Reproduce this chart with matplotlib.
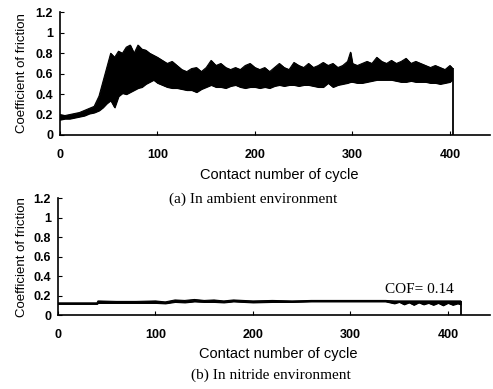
# -*- coding: utf-8 -*-
# Coefficient of friction vs contact cycles, ambient (a) and nitride (b) environment

import matplotlib
matplotlib.use("Agg")
import matplotlib.pyplot as plt

# (a) ambient: band of the noisy trace, upper and lower edge
cycles_a = [0, 5, 10, 15, 20, 25, 30, 35, 40, 44, 48, 52, 56, 60, 64, 68, 72, 76, 80, 84,
            88, 92, 96, 100, 105, 110, 115, 120, 125, 130, 135, 140, 145, 150, 155, 160,
            165, 170, 175, 180, 185, 190, 195, 200, 205, 210, 215, 220, 225, 230, 235, 240,
            245, 250, 255, 260, 265, 270, 275, 280, 285, 290, 295, 298, 300, 305, 310, 315,
            320, 325, 330, 335, 340, 345, 350, 355, 360, 365, 370, 375, 380, 385, 390, 395,
            400, 402]
upper_a = [0.20, 0.19, 0.20, 0.21, 0.22, 0.24, 0.26, 0.28, 0.38, 0.52, 0.66, 0.80, 0.76, 0.82,
           0.80, 0.86, 0.88, 0.80, 0.88, 0.84, 0.83, 0.80, 0.78, 0.76, 0.73, 0.70, 0.72, 0.68,
           0.64, 0.62, 0.65, 0.66, 0.62, 0.66, 0.73, 0.68, 0.70, 0.66, 0.64, 0.66, 0.64, 0.68,
           0.70, 0.66, 0.64, 0.66, 0.62, 0.66, 0.70, 0.66, 0.64, 0.71, 0.68, 0.66, 0.70, 0.66,
           0.68, 0.71, 0.68, 0.70, 0.66, 0.68, 0.72, 0.81, 0.70, 0.68, 0.70, 0.72, 0.70, 0.76,
           0.72, 0.70, 0.73, 0.70, 0.72, 0.75, 0.70, 0.72, 0.70, 0.68, 0.66, 0.68, 0.66, 0.64,
           0.68, 0.66]
lower_a = [0.15, 0.16, 0.16, 0.17, 0.18, 0.19, 0.21, 0.22, 0.24, 0.27, 0.31, 0.34, 0.27, 0.38,
           0.41, 0.40, 0.42, 0.44, 0.46, 0.47, 0.50, 0.52, 0.54, 0.51, 0.49, 0.47, 0.46, 0.46,
           0.45, 0.44, 0.44, 0.42, 0.45, 0.47, 0.49, 0.47, 0.47, 0.46, 0.48, 0.49, 0.47, 0.46,
           0.47, 0.47, 0.46, 0.47, 0.46, 0.48, 0.49, 0.48, 0.49, 0.49, 0.48, 0.49, 0.49, 0.48,
           0.47, 0.47, 0.51, 0.47, 0.49, 0.50, 0.51, 0.52, 0.52, 0.51, 0.51, 0.52, 0.53, 0.54,
           0.54, 0.54, 0.54, 0.53, 0.52, 0.52, 0.53, 0.52, 0.52, 0.52, 0.51, 0.51, 0.50, 0.51,
           0.52, 0.54]
end_a = 403

# (b) nitride: thin trace around 0.14
cycles_b = [0, 40, 41, 60, 80, 100, 110, 120, 130, 140, 150, 160, 170, 180, 190, 200, 220,
            240, 260, 280, 300, 320, 336, 345, 350, 355, 360, 365, 370, 375, 380, 385, 390,
            395, 400, 405, 410, 413]
upper_b = [0.125, 0.125, 0.145, 0.140, 0.140, 0.145, 0.135, 0.155, 0.150, 0.160, 0.150, 0.155,
           0.145, 0.155, 0.150, 0.145, 0.150, 0.145, 0.150, 0.150, 0.150, 0.150, 0.150, 0.145,
           0.145, 0.145, 0.145, 0.145, 0.145, 0.145, 0.145, 0.145, 0.145, 0.145, 0.145, 0.145,
           0.145, 0.145]
lower_b = [0.115, 0.115, 0.125, 0.125, 0.125, 0.125, 0.120, 0.135, 0.130, 0.140, 0.135, 0.135,
           0.130, 0.140, 0.135, 0.130, 0.135, 0.135, 0.140, 0.140, 0.140, 0.140, 0.140, 0.120,
           0.135, 0.110, 0.130, 0.105, 0.130, 0.110, 0.125, 0.105, 0.125, 0.100, 0.125, 0.105,
           0.120, 0.110]
end_b = 413
cof_text = "COF= 0.14"

y_ticks = [0, 0.2, 0.4, 0.6, 0.8, 1.0, 1.2]
y_labels = ["0", "0.2", "0.4", "0.6", "0.8", "1", "1.2"]
x_ticks = [0, 100, 200, 300, 400]

fig = plt.figure(figsize=(4.93, 3.89), dpi=100)
ax1 = fig.add_axes([0.1217, 0.653, 0.872, 0.315])
ax2 = fig.add_axes([0.1176, 0.190, 0.876, 0.301])

panels = [
    (ax1, cycles_a, upper_a, lower_a, end_a, 441),
    (ax2, cycles_b, upper_b, lower_b, end_b, 443),
]
for ax, cyc, up, lo, end, xmax in panels:
    ax.fill_between(cyc, lo, up, color="black", lw=0.8)
    ax.plot(cyc, up, color="black", lw=0.8)
    ax.plot(cyc, lo, color="black", lw=0.8)
    ax.vlines(end, 0, up[-1], color="black", lw=1.3)
    ax.set_xlim(0, xmax)
    ax.set_ylim(0, 1.2)
    ax.set_xticks(x_ticks)
    ax.set_yticks(y_ticks)
    ax.set_yticklabels(y_labels)
    for s in ["top", "right"]:
        ax.spines[s].set_visible(False)
    for s in ["left", "bottom"]:
        ax.spines[s].set_linewidth(1.2)
    ax.tick_params(axis="x", direction="in", length=3, pad=10)
    ax.tick_params(axis="y", direction="in", length=3, pad=5)
    for lab in ax.get_xticklabels() + ax.get_yticklabels():
        lab.set_fontfamily("Liberation Sans")
        lab.set_fontweight("bold")
        lab.set_fontsize(9)

ax2.text(335, 0.26, cof_text, family="Liberation Serif", fontsize=11, va="center")

sans = dict(family="Liberation Sans", fontsize=10.5, ha="center", va="center")
serif = dict(family="Liberation Serif", fontsize=11, ha="center", va="center")
fig.text(0.566, 0.550, "Contact number of cycle", **sans)
fig.text(0.564, 0.090, "Contact number of cycle", **sans)
fig.text(0.513, 0.488, "(a) In ambient environment", **serif)
fig.text(0.550, 0.036, "(b) In nitride environment", **serif)
fig.text(0.045, 0.812, "Coefficient of friction", rotation=90,
         family="Liberation Sans", fontsize=9.5, ha="center", va="center")
fig.text(0.045, 0.340, "Coefficient of friction", rotation=90,
         family="Liberation Sans", fontsize=9.5, ha="center", va="center")

fig.savefig("out.png", dpi=100)
